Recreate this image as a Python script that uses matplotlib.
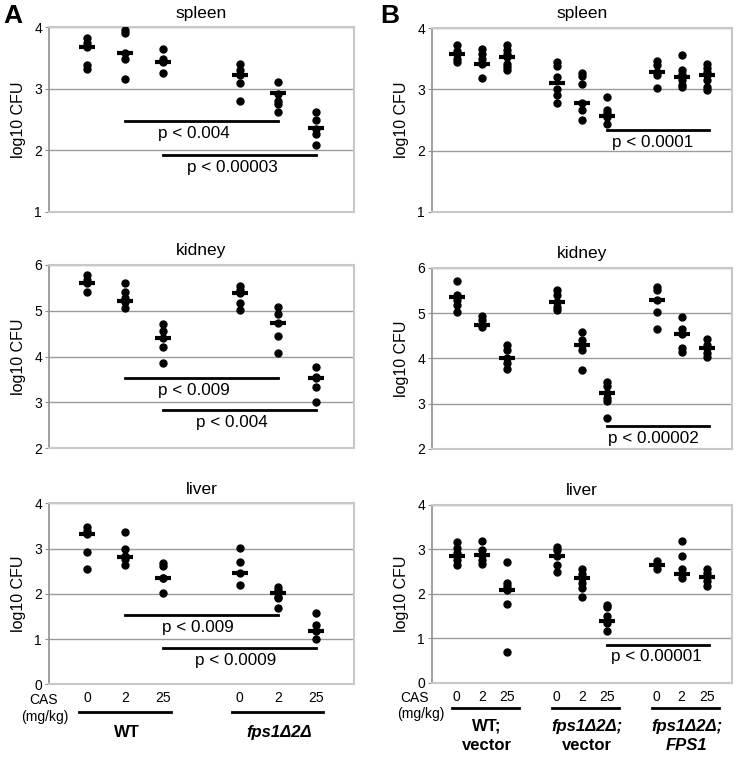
import numpy as np
import matplotlib.pyplot as plt
from matplotlib.transforms import blended_transform_factory as blend

plt.rcParams['font.family'] = ['Liberation Sans', 'DejaVu Sans']

# %% data
cas_doses = ['0', '2', '25']
a_pos = [1, 2, 3, 5, 6, 7]
b_pos = [1, 2, 3, 5, 6, 7, 9, 10, 11]

a_spleen = [[3.82, 3.75, 3.68, 3.38, 3.33], [3.96, 3.90, 3.58, 3.49, 3.16],
            [3.65, 3.49, 3.43, 3.26], [3.40, 3.30, 3.23, 3.09, 2.81],
            [3.11, 2.92, 2.81, 2.75, 2.62], [2.62, 2.50, 2.35, 2.27, 2.08]]
a_spleen_med = [3.68, 3.58, 3.44, 3.23, 2.93, 2.36]

a_kidney = [[5.77, 5.67, 5.60, 5.42], [5.61, 5.42, 5.27, 5.20, 5.05],
            [4.71, 4.55, 4.40, 4.20, 3.85], [5.53, 5.45, 5.38, 5.18, 5.02],
            [5.08, 4.92, 4.74, 4.45, 4.07], [3.77, 3.56, 3.53, 3.33, 3.00]]
a_kidney_med = [5.61, 5.22, 4.40, 5.38, 4.74, 3.53]

a_liver = [[3.47, 3.40, 3.33, 2.93, 2.54], [3.37, 2.99, 2.83, 2.78, 2.64],
           [2.69, 2.62, 2.36, 2.34, 2.03], [3.01, 2.71, 2.47, 2.20],
           [2.16, 2.08, 2.01, 1.94, 1.90, 1.68], [1.58, 1.31, 1.18, 1.00]]
a_liver_med = [3.33, 2.81, 2.35, 2.47, 2.01, 1.18]

b_spleen = [[3.72, 3.62, 3.58, 3.50, 3.45], [3.65, 3.58, 3.50, 3.42, 3.19],
            [3.72, 3.64, 3.58, 3.52, 3.42, 3.37, 3.31],
            [3.45, 3.38, 3.20, 3.01, 2.91, 2.78],
            [3.26, 3.21, 3.09, 2.77, 2.66, 2.50],
            [2.88, 2.66, 2.61, 2.55, 2.44],
            [3.46, 3.39, 3.29, 3.23, 3.02],
            [3.56, 3.31, 3.25, 3.15, 3.07, 3.03],
            [3.42, 3.34, 3.28, 3.23, 3.15, 3.03, 2.99]]
b_spleen_med = [3.58, 3.42, 3.52, 3.10, 2.77, 2.56, 3.29, 3.20, 3.23]

b_kidney = [[5.71, 5.40, 5.29, 5.18, 5.03], [4.94, 4.86, 4.75, 4.70],
            [4.30, 4.19, 4.00, 3.89, 3.76], [5.51, 5.40, 5.25, 5.14, 5.07],
            [4.59, 4.41, 4.30, 4.19, 3.75],
            [3.49, 3.38, 3.23, 3.12, 3.06, 2.68],
            [5.57, 5.51, 5.30, 5.03, 4.64], [4.91, 4.66, 4.55, 4.22, 4.15],
            [4.44, 4.30, 4.22, 4.11, 4.04]]
b_kidney_med = [5.35, 4.75, 4.00, 5.25, 4.30, 3.23, 5.30, 4.55, 4.22]

b_liver = [[3.16, 3.03, 2.92, 2.86, 2.77, 2.65], [3.19, 2.99, 2.88, 2.77, 2.67],
           [2.71, 2.24, 2.17, 2.09, 1.77, 0.70], [3.05, 2.99, 2.86, 2.65, 2.50],
           [2.56, 2.45, 2.36, 2.24, 2.13, 1.93],
           [1.76, 1.70, 1.50, 1.35, 1.17], [2.75, 2.65, 2.56],
           [3.18, 2.86, 2.56, 2.45, 2.36], [2.56, 2.47, 2.39, 2.28, 2.17]]
b_liver_med = [2.86, 2.88, 2.09, 2.86, 2.36, 1.40, 2.64, 2.45, 2.39]

# p-value bars: (x from, x to, y, label)
a_spleen_p = [(2, 6, 2.48, 'p < 0.004'), (3, 7, 1.92, 'p < 0.00003')]
a_kidney_p = [(2, 6, 3.53, 'p < 0.009'), (3, 7, 2.83, 'p < 0.004')]
a_liver_p = [(2, 6, 1.53, 'p < 0.009'), (3, 7, 0.81, 'p < 0.0009')]
b_spleen_p = [(7, 11.1, 2.33, 'p < 0.0001')]
b_kidney_p = [(7, 11.1, 2.51, 'p < 0.00002')]
b_liver_p = [(7, 11.1, 0.86, 'p < 0.00001')]


def draw_panel(ax, pos, pts, med, ylim, title, pbars, xmax, text_shift):
    for x, ys, m in zip(pos, pts, med):
        ax.plot([x] * len(ys), ys, 'o', color='black', ms=5, zorder=3)
        ax.plot(x, m, marker='_', color='black', ms=12, mew=3, zorder=4)
    for x0, x1, y, lab in pbars:
        ax.plot([x0, x1], [y, y], color='black', lw=2, zorder=3)
        ax.text((x0 + x1) / 2 + text_shift, y - 0.08 * (ylim[1] - ylim[0]) / 3,
                lab, ha='center', va='top', fontsize=12.3)
    ax.set_xlim(0, xmax)
    ax.set_ylim(*ylim)
    ax.set_yticks(np.arange(ylim[0], ylim[1] + 1))
    ax.yaxis.grid(True, color='#9a9a9a', lw=1)
    ax.set_axisbelow(True)
    ax.set_xticks([])
    for s in ['top', 'right', 'bottom']:
        ax.spines[s].set_color('#c8c8c8')
        ax.spines[s].set_linewidth(1.5)
    ax.spines['left'].set_color('#909090')
    ax.spines['left'].set_linewidth(1.2)
    ax.tick_params(axis='y', length=3, color='#909090', labelsize=10, pad=2)
    ax.set_ylabel('log10 CFU', fontsize=11.5, labelpad=6)
    ax.set_title(title, fontsize=12.5, pad=7)


fig = plt.figure(figsize=(7.42, 7.57), dpi=100)
ax_as = fig.add_axes([0.066, 0.720, 0.411, 0.244])
ax_ak = fig.add_axes([0.066, 0.408, 0.411, 0.242])
ax_al = fig.add_axes([0.066, 0.096, 0.411, 0.239])
ax_bs = fig.add_axes([0.582, 0.720, 0.404, 0.243])
ax_bk = fig.add_axes([0.582, 0.407, 0.404, 0.239])
ax_bl = fig.add_axes([0.582, 0.098, 0.404, 0.235])

draw_panel(ax_as, a_pos, a_spleen, a_spleen_med, (1, 4), 'spleen', a_spleen_p, 8, -0.2)
draw_panel(ax_ak, a_pos, a_kidney, a_kidney_med, (2, 6), 'kidney', a_kidney_p, 8, -0.2)
draw_panel(ax_al, a_pos, a_liver, a_liver_med, (0, 4), 'liver', a_liver_p, 8, -0.1)
draw_panel(ax_bs, b_pos, b_spleen, b_spleen_med, (1, 4), 'spleen', b_spleen_p, 12, -0.2)
draw_panel(ax_bk, b_pos, b_kidney, b_kidney_med, (2, 6), 'kidney', b_kidney_p, 12, -0.2)
draw_panel(ax_bl, b_pos, b_liver, b_liver_med, (0, 4), 'liver', b_liver_p, 12, -0.05)

# dose labels and strain groups under the liver panels
for ax, pos in [(ax_al, a_pos), (ax_bl, b_pos)]:
    ax.set_xticks(pos)
    ax.set_xticklabels(cas_doses * (len(pos) // 3), fontsize=10)
    ax.tick_params(axis='x', length=0, pad=5)

tr = blend(ax_al.transData, ax_al.transAxes)
ax_al.text(-0.15, -0.088, 'CAS', transform=tr, ha='center', va='center', fontsize=10)
ax_al.text(-0.1, -0.178, '(mg/kg)', transform=tr, ha='center', va='center', fontsize=10)
for x0, lab, style in [(1, 'WT', 'normal'), (5, 'fps1Δ2Δ', 'italic')]:
    ax_al.plot([x0 - 0.2, x0 + 2.2], [-0.155, -0.155], transform=tr, color='black',
               lw=2, clip_on=False)
    ax_al.text(x0 + 1.05, -0.265, lab, transform=tr, ha='center', va='center',
               fontsize=12, fontweight='bold', fontstyle=style)

tr = blend(ax_bl.transData, ax_bl.transAxes)
ax_bl.text(-0.7, -0.088, 'CAS', transform=tr, ha='center', va='center', fontsize=10)
ax_bl.text(-0.45, -0.175, '(mg/kg)', transform=tr, ha='center', va='center', fontsize=10)
b_groups = [(1, 'WT;', 'normal', 'vector', 'normal'),
            (5, 'fps1Δ2Δ;', 'italic', 'vector', 'normal'),
            (9, 'fps1Δ2Δ;', 'italic', 'FPS1', 'italic')]
for x0, l1, s1, l2, s2 in b_groups:
    ax_bl.plot([x0 - 0.2, x0 + 2.5], [-0.14, -0.14], transform=tr, color='black',
               lw=2, clip_on=False)
    ax_bl.text(x0 + 1.2, -0.245, l1, transform=tr, ha='center', va='center',
               fontsize=12, fontweight='bold', fontstyle=s1)
    ax_bl.text(x0 + 1.2, -0.355, l2, transform=tr, ha='center', va='center',
               fontsize=12, fontweight='bold', fontstyle=s2)

fig.text(0.004, 0.995, 'A', fontsize=19, fontweight='bold', va='top')
fig.text(0.513, 0.995, 'B', fontsize=19, fontweight='bold', va='top')

fig.savefig('out.png', dpi=100)
